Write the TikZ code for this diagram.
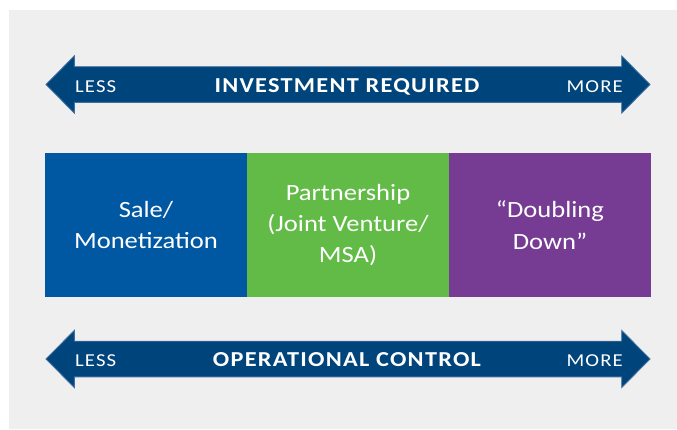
\documentclass[tikz,border=0pt]{standalone}
\usepackage{fontspec}
\setmainfont{Carlito}[FakeStretch=1.14]
\newfontfamily\trackfont{Carlito}[FakeStretch=1.14,LetterSpace=6]
\newfontfamily\smalltrack{Carlito}[FakeStretch=1.14,LetterSpace=6]
\begin{document}
\begin{tikzpicture}[x=1pt,y=-1pt,
  panel/.style={fill=panelgray,draw=none},
  scalearrow/.style={fill=arrowblue,draw=arrowedge,line width=0.9pt,line join=miter},
  optionbox/.style={draw=none,minimum width=202pt,minimum height=144pt,inner sep=0pt,
    text=white,align=center,font=\fontsize{23.3}{31.4}\selectfont},
  endlabel/.style={text=white,inner sep=0pt,font=\fontsize{18.2}{18.2}\smalltrack},
  titlelabel/.style={text=white,inner sep=0pt,font=\fontsize{21.3}{21.3}\bfseries\trackfont}]
\definecolor{panelgray}{HTML}{EFEFEF}
\definecolor{arrowblue}{HTML}{00447C}
\definecolor{arrowedge}{HTML}{3F6E9E}
\definecolor{saleblue}{HTML}{0057A2}
\definecolor{partgreen}{HTML}{62BB47}
\definecolor{doublepurple}{HTML}{763C94}

\useasboundingbox (0,0) rectangle (677,429);
\fill[panel] (9,10) rectangle (677,429);

% double-headed scale arrows
\foreach \cy in {84.5,359}{
  \draw[scalearrow] (46,\cy) -- (74.3,\cy-28.5) -- (74.3,\cy-17.8) -- (621.7,\cy-17.8)
    -- (621.7,\cy-28.5) -- (650,\cy) -- (621.7,\cy+28.5) -- (621.7,\cy+17.8)
    -- (74.3,\cy+17.8) -- (74.3,\cy+28.5) -- cycle;
}

% labels on the investment arrow
\node[endlabel,anchor=base west] (investless) at (75,92.3) {LESS};
\node[titlelabel,anchor=base] (investtitle) at (347,92.3) {INVESTMENT REQUIRED};
\node[endlabel,anchor=base east] (investmore) at (623,92.3) {MORE};

% labels on the control arrow
\node[endlabel,anchor=base west] (controlless) at (75,366.7) {LESS};
\node[titlelabel,anchor=base] (controltitle) at (347,366.7) {OPERATIONAL CONTROL};
\node[endlabel,anchor=base east] (controlmore) at (623,366.7) {MORE};

% strategic option boxes
\node[optionbox,fill=saleblue] (sale) at (146,225) {Sale/\\Monetization};
\node[optionbox,fill=partgreen] (partner) at (348,225) {Partnership\\(Joint Venture/\\MSA)};
\node[optionbox,fill=doublepurple] (double) at (550,225) {“Doubling\\Down”};
\end{tikzpicture}
\end{document}
